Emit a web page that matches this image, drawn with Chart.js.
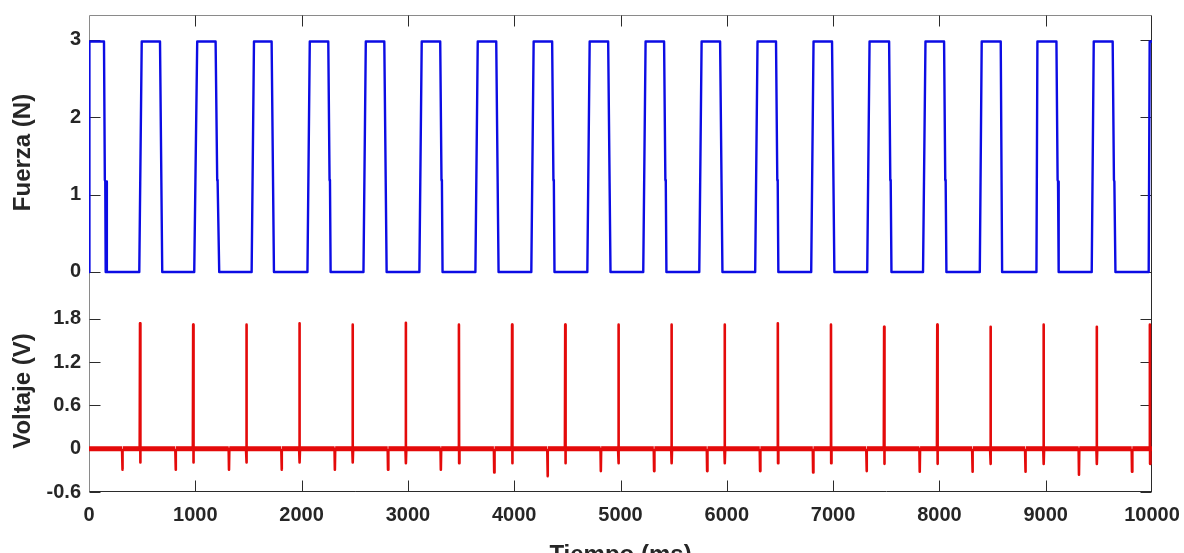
<!DOCTYPE html>
<html>
<head>
<meta charset="utf-8">
<script src="https://cdn.jsdelivr.net/npm/chart.js@4.4.1/dist/chart.umd.min.js"></script>
<style>
  html, body { margin: 0; padding: 0; background: #ffffff; }
  #lienzo { position: relative; width: 1184px; height: 553px; overflow: hidden; }
  #panelF { position: absolute; left: 0; top: 0; }
  #panelV { position: absolute; left: 0; top: 290px; }
</style>
</head>
<body>
<div id="lienzo">
  <canvas id="panelF" width="1184" height="290"></canvas>
  <canvas id="panelV" width="1184" height="263"></canvas>
</div>
<script>
// ---- axes ----
const tiempoTicks  = [0, 1000, 2000, 3000, 4000, 5000, 6000, 7000, 8000, 9000, 10000];
const tiempoLabels = ['0', '1000', '2000', '3000', '4000', '5000', '6000', '7000', '8000', '9000', '10000'];
const fuerzaTicks  = [0, 1, 2, 3];
const fuerzaLabels = ['0', '1', '2', '3'];
const voltajeTicks  = [-0.6, 0, 0.6, 1.2, 1.8];
const voltajeLabels = ['-0.6', '0', '0.6', '1.2', '1.8'];

// ---- force pulses (ms): start of rise, top reached, start of fall, zero reached ----
const pulsoSubida  = [0,   473, 990,  1530, 2055, 2582, 3108, 3635, 4161, 4688, 5214, 5741, 6267, 6794, 7321, 7846, 8380, 8913, 9433, 9969];
const pulsoCima    = [4,   496, 1018, 1552, 2077, 2604, 3130, 3657, 4183, 4710, 5236, 5763, 6289, 6816, 7343, 7869, 8398, 8922, 9452, 9978];
const pulsoBajada  = [141, 668, 1191, 1718, 2251, 2778, 3304, 3831, 4357, 4884, 5410, 5937, 6463, 6990, 7527, 8044, 8577, 9101, 9630, null];
const pulsoFin     = [157, 689, 1225, 1740, 2273, 2800, 3326, 3853, 4379, 4906, 5432, 5959, 6485, 7012, 7549, 8066, 8590, 9122, 9656, null];
// time where the falling edge shows a short step near 1.19 N (null = clean edge)
const pulsoQuiebre = [149, null, 1206, null, 2263, null, 3316, null, 4369, null, 5422, null, 6475, null, 7538, 8055, null, 9112, 9642, null];
const fuerzaAlta = 2.98;
const fuerzaQuiebre = 1.19;
// ringing on the first falling edge
const rebote1T = [160, 168];
const rebote1N = [1.17, 0];

// ---- voltage events (ms / V) ----
const picoT    = [480, 980, 1480, 1980, 2480, 2980, 3480, 3980, 4480, 4980, 5480, 5980, 6480, 6980, 7480, 7980, 8480, 8980, 9480, 9980];
const picoV    = [1.74, 1.72, 1.72, 1.74, 1.72, 1.745, 1.72, 1.72, 1.72, 1.72, 1.72, 1.72, 1.74, 1.72, 1.69, 1.72, 1.69, 1.72, 1.69, 1.72];
const picoBajo = [-0.19, -0.19, -0.19, -0.19, -0.19, -0.2, -0.2, -0.2, -0.2, -0.2, -0.2, -0.2, -0.2, -0.2, -0.21, -0.21, -0.21, -0.21, -0.21, -0.21];
const valleT   = [314, 815, 1317, 1812, 2313, 2813, 3310, 3812, 4314, 4815, 5316, 5815, 6313, 6812, 7315, 7815, 8311, 8809, 9313, 9812];
const valleV   = [-0.29, -0.29, -0.29, -0.29, -0.29, -0.29, -0.29, -0.33, -0.38, -0.31, -0.31, -0.31, -0.31, -0.33, -0.31, -0.32, -0.32, -0.32, -0.36, -0.32];

// ---- build traces ----
const fuerzaPuntos = [];
for (let i = 0; i < pulsoSubida.length; i++) {
  fuerzaPuntos.push({x: pulsoSubida[i], y: 0});
  fuerzaPuntos.push({x: pulsoCima[i], y: fuerzaAlta});
  if (pulsoBajada[i] === null) { fuerzaPuntos.push({x: 10000, y: fuerzaAlta}); continue; }
  fuerzaPuntos.push({x: pulsoBajada[i], y: fuerzaAlta});
  if (pulsoQuiebre[i] !== null) {
    fuerzaPuntos.push({x: pulsoQuiebre[i], y: fuerzaQuiebre});
    fuerzaPuntos.push({x: pulsoQuiebre[i] + 4, y: fuerzaQuiebre - 0.02});
  }
  fuerzaPuntos.push({x: pulsoFin[i], y: 0});
  if (i === 0) {
    for (let k = 0; k < rebote1T.length; k++) fuerzaPuntos.push({x: rebote1T[k], y: rebote1N[k]});
  }
}

const eventos = [];
picoT.forEach((t, i) => eventos.push({t, pts: [[t - 3, 0], [t, picoV[i]], [t + 2, picoBajo[i]], [t + 5, 0]]}));
valleT.forEach((t, i) => eventos.push({t, pts: [[t - 3, 0], [t, valleV[i]], [t + 3, 0]]}));
eventos.sort((a, b) => a.t - b.t);
const voltajePuntos = [{x: 0, y: 0}];
eventos.forEach(e => e.pts.forEach(p => voltajePuntos.push({x: Math.min(p[0], 10000), y: p[1]})));
if (voltajePuntos[voltajePuntos.length - 1].x < 10000) voltajePuntos.push({x: 10000, y: 0});

// ---- styling ----
const FAMILIA = "'Liberation Sans', Arial, Helvetica, sans-serif";
const TEXTO = '#262626';
const fuenteTick = {family: FAMILIA, size: 20, weight: 'bold'};
const fuenteTitulo = {family: FAMILIA, size: 24, weight: 'bold', lineHeight: 1.2};

// axes frame with inward ticks (box on the right, light edges on the left/top)
const marco = {
  id: 'marco',
  beforeDatasetsDraw(chart, args, o) {
    const {ctx, chartArea: a} = chart;
    const sx = chart.scales.x, sy = chart.scales.y;
    const L = Math.round(a.left) + 0.5, R = Math.round(a.right) - 0.5;
    const T = Math.round(a.top) + 0.5, B = Math.round(a.bottom) - 0.5;
    ctx.save();
    ctx.lineWidth = 1;
    ctx.strokeStyle = '#8a8a8a';
    ctx.beginPath();
    ctx.moveTo(L, o.arriba ? T : a.top); ctx.lineTo(L, a.bottom);
    if (o.arriba) { ctx.moveTo(L, T); ctx.lineTo(R, T); }
    ctx.stroke();
    ctx.strokeStyle = '#2b2b2b';
    ctx.beginPath();
    ctx.moveTo(R, o.arriba ? T : a.top); ctx.lineTo(R, o.abajo ? B : a.bottom);
    if (o.abajo) { ctx.moveTo(L, B); ctx.lineTo(R + 0.5, B); }
    // y ticks, both sides
    o.ticksY.forEach(v => {
      const p = Math.round(sy.getPixelForValue(v)) + 0.5;
      ctx.moveTo(L, p); ctx.lineTo(L + 11, p);
      ctx.moveTo(R, p); ctx.lineTo(R - 11, p);
    });
    // x ticks on the framed edge
    tiempoTicks.forEach(v => {
      const p = Math.round(sx.getPixelForValue(v)) + 0.5;
      if (v === 0 || v === 10000) return;
      if (o.arriba) { ctx.moveTo(p, T); ctx.lineTo(p, T + 11); }
      if (o.abajo) { ctx.moveTo(p, B); ctx.lineTo(p, B - 11); }
    });
    ctx.stroke();
    ctx.restore();
  }
};

function ejeY(min, max, ticks, labels, titulo) {
  return {
    type: 'linear', position: 'left', min, max,
    afterBuildTicks: s => { s.ticks = ticks.map(v => ({value: v})); },
    afterFit: s => { s.width = 89; s.paddingTop = 0; s.paddingBottom = 0; },
    grid: {display: false, drawTicks: false},
    border: {display: false},
    ticks: {
      color: TEXTO, font: fuenteTick, padding: 8,
      callback: (v, i) => labels[i]
    },
    title: {display: true, text: titulo, color: TEXTO, font: fuenteTitulo, padding: {top: 9, bottom: 0}}
  };
}

const comunes = {
  responsive: false,
  animation: false,
  devicePixelRatio: 1,
  events: [],
  plugins: {legend: {display: false}, tooltip: {enabled: false}}
};

new Chart(document.getElementById('panelF'), {
  type: 'line',
  data: {datasets: [{
    data: fuerzaPuntos,
    borderColor: 'rgb(12, 12, 228)',
    borderWidth: 2.4,
    borderJoinStyle: 'round',
    pointRadius: 0,
    tension: 0,
    fill: false
  }]},
  options: Object.assign({}, comunes, {
    layout: {padding: {top: 15, right: 32, bottom: 0, left: 0}},
    scales: {
      x: {type: 'linear', min: 0, max: 10000, display: false,
          afterFit: s => { s.paddingLeft = 0; s.paddingRight = 0; }},
      y: ejeY(-0.233, 3.323, fuerzaTicks, fuerzaLabels, 'Fuerza (N)')
    },
    plugins: Object.assign({}, comunes.plugins, {marco: {arriba: true, abajo: false, ticksY: fuerzaTicks}})
  }),
  plugins: [marco]
});

new Chart(document.getElementById('panelV'), {
  type: 'line',
  data: {datasets: [{
    data: voltajePuntos,
    borderColor: 'rgb(228, 10, 10)',
    borderWidth: 2.6,
    borderJoinStyle: 'round',
    pointRadius: 0,
    tension: 0,
    fill: false,
    segment: {
      borderWidth: c => (c.p0.parsed.y === 0 && c.p1.parsed.y === 0) ? 5 : 2.6
    }
  }]},
  options: Object.assign({}, comunes, {
    layout: {padding: {top: 0, right: 32, bottom: 0, left: 0}},
    scales: {
      x: {
        type: 'linear', position: 'bottom', min: 0, max: 10000,
        afterBuildTicks: s => { s.ticks = tiempoTicks.map(v => ({value: v})); },
        afterFit: s => { s.height = 61; s.paddingLeft = 0; s.paddingRight = 0; },
        grid: {display: false, drawTicks: false},
        border: {display: false},
        ticks: {color: TEXTO, font: fuenteTick, padding: 11, maxRotation: 0, autoSkip: false,
                callback: (v, i) => tiempoLabels[i]},
        title: {display: true, text: 'Tiempo (ms)', color: TEXTO,
                font: {family: FAMILIA, size: 24, weight: 'bold', lineHeight: 0.01},
                padding: {top: 0, bottom: -2}}
      },
      y: ejeY(-0.6, 2.2, voltajeTicks, voltajeLabels, 'Voltaje (V)')
    },
    plugins: Object.assign({}, comunes.plugins, {marco: {arriba: false, abajo: true, ticksY: voltajeTicks}})
  }),
  plugins: [marco]
});
</script>
</body>
</html>
